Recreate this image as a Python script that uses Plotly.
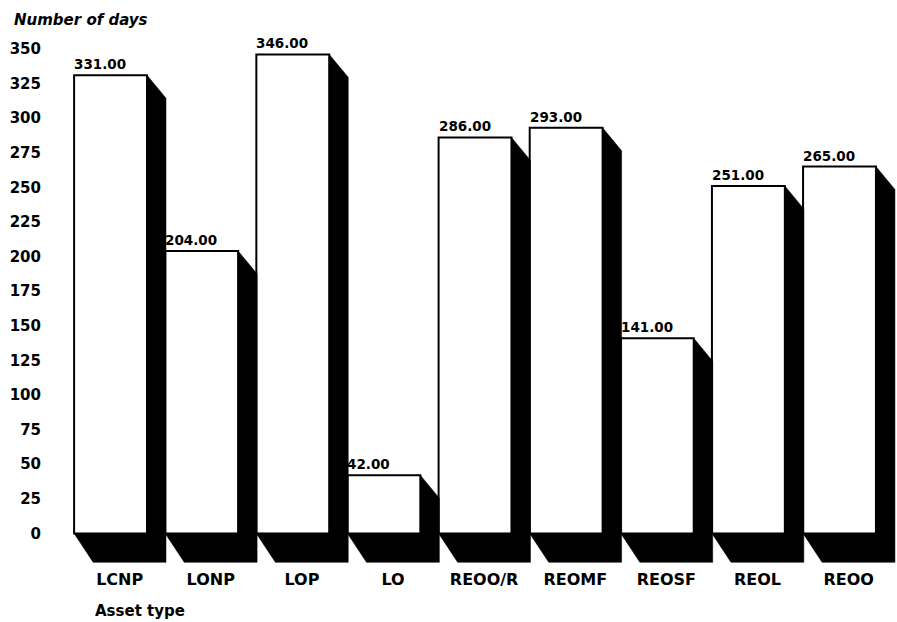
import plotly.graph_objects as go

# Average number of days by asset type
categories = ["LCNP", "LONP", "LOP", "LO", "REOO/R", "REOMF", "REOSF", "REOL", "REOO"]
days = [331, 204, 346, 42, 286, 293, 141, 251, 265]
y_ticks = list(range(0, 351, 25))

BAR_W = 0.8      # front face width (x units)
DX = 0.2085      # extrusion depth to the right (x units)
DY_TOP = 16.6    # drop of the top edge of the side face (y units)
DY_BOT = 20.9    # drop of the floor shadow below zero (y units)

FONT = "DejaVu Sans"

fig = go.Figure()

# Black extruded side/floor face of each bar (drawn beside the front face)
for i, v in enumerate(days):
    x0, x1 = i - BAR_W / 2, i + BAR_W / 2
    xs = [x1, x1 + DX, x1 + DX, x0 + DX, x0, x1, x1]
    ys = [v, v - DY_TOP, -DY_BOT, -DY_BOT, 0, 0, v]
    fig.add_trace(go.Scatter(
        x=xs, y=ys, mode="lines", fill="toself", fillcolor="black",
        line=dict(color="black", width=0.5), hoverinfo="skip", showlegend=False,
    ))

# White front faces
fig.add_trace(go.Bar(
    x=list(range(len(categories))), y=days, width=BAR_W,
    marker=dict(color="white", line=dict(color="black", width=2)),
    showlegend=False, hoverinfo="skip",
))

# Value labels, left-aligned on each bar's top edge
for i, v in enumerate(days):
    fig.add_annotation(
        x=i - BAR_W / 2, y=v, xanchor="left", yanchor="bottom",
        text=f"{v:.2f}", showarrow=False, xshift=-2, yshift=1,
        font=dict(family=FONT, size=13.5, color="black", weight="bold"),
    )

fig.add_annotation(
    xref="paper", yref="paper", x=-0.0638, y=1.0274, xanchor="left", yanchor="middle",
    text="Number of days", showarrow=False,
    font=dict(family=FONT, size=15, color="black", weight="bold", style="italic"),
)
fig.add_annotation(
    xref="paper", yref="paper", x=0.0337, y=-0.0814, xanchor="left", yanchor="middle",
    text="Asset type", showarrow=False,
    font=dict(family=FONT, size=15, color="black", weight="bold"),
)

fig.update_layout(
    width=897, height=622,
    margin=dict(l=65, r=1, t=35, b=54),
    paper_bgcolor="white", plot_bgcolor="white",
    xaxis=dict(
        range=[-0.5, 8.62],
        tickvals=[i + 0.1 for i in range(len(categories))],
        ticktext=categories,
        showgrid=False, zeroline=False, showline=False, ticks="",
        tickfont=dict(family=FONT, size=16, color="black", weight="bold"),
    ),
    yaxis=dict(
        range=[-25, 360],
        tickvals=y_ticks,
        ticktext=[str(t) for t in y_ticks],
        showgrid=False, zeroline=False, showline=False,
        ticks="outside", ticklen=20, tickcolor="rgba(0,0,0,0)",
        tickfont=dict(family=FONT, size=15, color="black", weight="bold"),
    ),
)

fig.write_html("out.html")
